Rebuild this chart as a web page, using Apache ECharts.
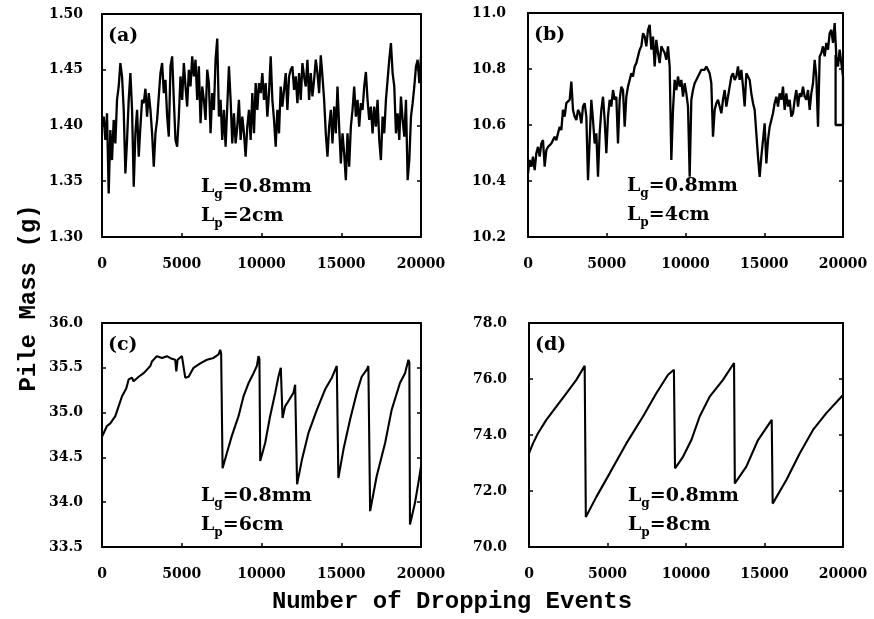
<!DOCTYPE html>
<html>
<head>
<meta charset="utf-8">
<title>Pile Mass vs Number of Dropping Events</title>
<script src="https://cdn.jsdelivr.net/npm/echarts@6/dist/echarts.min.js"></script>
<style>
  html, body { margin: 0; padding: 0; background: #fff; }
  #chart { width: 874px; height: 619px; }
</style>
</head>
<body>
<div id="chart"></div>
<script>
// ---- data ----
const EVENT_SPAN = 20000;

// (a) L_p = 2cm, sampled evenly over 0..20000 events
const massA = [
  1.399,1.408,1.387,1.411,1.339,1.396,1.369,1.405,1.384,1.423,
  1.435,1.456,1.444,1.414,1.357,1.387,1.423,1.447,1.414,1.345,
  1.393,1.414,1.372,1.399,1.423,1.420,1.433,1.408,1.429,1.414,
  1.393,1.363,1.393,1.405,1.426,1.447,1.456,1.429,1.441,1.408,
  1.390,1.453,1.462,1.423,1.387,1.381,1.408,1.444,1.423,1.456,
  1.435,1.417,1.450,1.435,1.462,1.444,1.459,1.423,1.453,1.402,
  1.435,1.423,1.405,1.450,1.438,1.393,1.429,1.414,1.459,1.478,
  1.408,1.423,1.387,1.414,1.381,1.417,1.453,1.423,1.384,1.411,
  1.384,1.399,1.423,1.387,1.408,1.393,1.372,1.399,1.414,1.387,
  1.429,1.393,1.438,1.414,1.438,1.429,1.447,1.423,1.438,1.408,
  1.429,1.462,1.423,1.405,1.381,1.414,1.393,1.435,1.417,1.432,
  1.447,1.414,1.444,1.450,1.453,1.432,1.444,1.420,1.447,1.423,
  1.456,1.444,1.435,1.459,1.423,1.447,1.426,1.441,1.459,1.447,
  1.429,1.463,1.444,1.423,1.393,1.372,1.399,1.414,1.384,1.417,
  1.393,1.435,1.399,1.366,1.393,1.375,1.351,1.393,1.363,1.399,
  1.414,1.435,1.408,1.423,1.399,1.420,1.414,1.435,1.448,1.423,
  1.405,1.417,1.393,1.417,1.399,1.423,1.387,1.369,1.408,1.393,
  1.423,1.441,1.459,1.474,1.447,1.435,1.393,1.411,1.387,1.426,
  1.405,1.390,1.423,1.351,1.369,1.408,1.420,1.435,1.453,1.459,
  1.438,1.462
];

// (b) L_p = 4cm, sampled evenly over 0..20000 events
const massB = [
  10.427,10.475,10.451,10.487,10.439,10.499,10.522,10.487,10.534,10.546,
  10.451,10.510,10.522,10.522,10.534,10.546,10.558,10.546,10.570,10.594,
  10.582,10.654,10.630,10.678,10.678,10.690,10.755,10.654,10.630,10.618,
  10.654,10.642,10.606,10.666,10.678,10.630,10.403,10.546,10.690,10.618,
  10.534,10.570,10.415,10.570,10.654,10.701,10.618,10.499,10.630,10.690,
  10.666,10.725,10.690,10.701,10.534,10.690,10.737,10.725,10.594,10.701,
  10.737,10.761,10.785,10.773,10.809,10.821,10.845,10.869,10.881,10.928,
  10.916,10.881,10.940,10.958,10.869,10.916,10.809,10.904,10.857,10.821,
  10.881,10.869,10.857,10.833,10.881,10.809,10.475,10.654,10.761,10.725,
  10.773,10.737,10.761,10.701,10.749,10.713,10.666,10.415,10.690,10.725,
  10.749,10.761,10.773,10.785,10.797,10.803,10.797,10.809,10.803,10.785,
  10.749,10.558,10.654,10.678,10.690,10.666,10.642,10.690,10.725,10.666,
  10.701,10.737,10.773,10.785,10.761,10.773,10.809,10.761,10.797,10.737,
  10.666,10.785,10.773,10.761,10.713,10.678,10.654,10.570,10.487,10.415,
  10.487,10.546,10.606,10.463,10.546,10.594,10.618,10.642,10.678,10.701,
  10.666,10.713,10.690,10.737,10.654,10.713,10.666,10.690,10.630,10.642,
  10.690,10.725,10.666,10.713,10.701,10.737,10.701,10.690,10.725,10.654,
  10.713,10.749,10.833,10.773,10.594,10.845,10.857,10.881,10.845,10.893,
  10.869,10.928,10.940,10.893,10.964,10.845,10.809,10.869,10.821,10.773
];
// the short flat step drawn at the right end of (b)
const eventsBTail = [20000, 19530, 19530];
const massBTail = [10.60, 10.60, 10.85];

// (c) L_p = 6cm
const eventsC = [
  0, 310, 520, 835, 1040, 1250, 1520, 1670, 1880, 1980, 2300, 2610, 2820, 3030,
  3130, 3440, 3760, 4070, 4380, 4590, 4660, 4740, 5010, 5220, 5430, 5740, 6160,
  6580, 6990, 7310, 7410, 7470, 7560, 7830, 8140, 8560, 8870, 9190, 9500, 9710,
  9810, 9870, 9920, 10230, 10540, 10860, 11060, 11210, 11270, 11320, 11480,
  11730, 12000, 12110, 12150, 12230, 12530, 12940, 13470, 13990, 14410, 14720,
  14760, 14820, 15140, 15550, 15970, 16280, 16600, 16700, 16740, 16810, 17220,
  17750, 18160, 18680, 19000, 19210, 19270, 19310, 19620, 19830, 20000
];
const massC = [
  34.73, 34.85, 34.88, 34.96, 35.07, 35.18, 35.27, 35.37, 35.39, 35.35, 35.40,
  35.44, 35.48, 35.52, 35.57, 35.63, 35.61, 35.63, 35.60, 35.59, 35.46, 35.59,
  35.63, 35.39, 35.40, 35.50, 35.55, 35.59, 35.61, 35.65, 35.70, 35.66, 34.38,
  34.55, 34.74, 34.96, 35.18, 35.33, 35.44, 35.52, 35.63, 35.60, 34.46, 34.66,
  34.96, 35.22, 35.40, 35.50, 35.48, 34.94, 35.07, 35.14, 35.22, 35.31, 35.29,
  34.20, 34.47, 34.77, 35.03, 35.26, 35.39, 35.52, 35.50, 34.27, 34.59, 34.92,
  35.22, 35.40, 35.48, 35.52, 35.50, 33.90, 34.29, 34.66, 35.03, 35.33, 35.44,
  35.59, 35.56, 33.75, 33.99, 34.21, 34.40
];

// (d) L_p = 8cm
const eventsD = [
  0, 255, 573, 1104, 1740, 2378, 3015, 3546, 3620, 4290, 5138, 6200, 7261, 8110,
  8854, 9230, 9300, 9809, 10340, 10870, 11507, 12357, 13060, 13110, 13843, 14586,
  15460, 15520, 16391, 17240, 18089, 18938, 20000
];
const massD = [
  73.34, 73.70, 74.06, 74.54, 75.01, 75.49, 75.97, 76.47, 71.07, 71.79, 72.63,
  73.70, 74.66, 75.49, 76.15, 76.33, 72.81, 73.22, 73.82, 74.66, 75.37, 75.97,
  76.57, 72.27, 72.87, 73.82, 74.54, 71.55, 72.39, 73.34, 74.18, 74.78, 75.43
];

// axis ranges and labels per panel
const panelTags = ['(a)', '(b)', '(c)', '(d)'];
const pileLengths = ['2cm', '4cm', '6cm', '8cm'];
const grainSize = '0.8mm';
const yMins = [1.30, 10.2, 33.5, 70.0];
const yMaxs = [1.50, 11.0, 36.0, 78.0];
const yIntervals = [0.05, 0.2, 0.5, 2.0];
const yDecimals = [2, 1, 1, 1];
const xInterval = 5000;
const xTitle = 'Number of Dropping Events';
const yTitle = 'Pile Mass (g)';

(function() {
  document.addEventListener('DOMContentLoaded', function() {
    initChart();
  });

  const SERIF = '"DejaVu Serif", "Liberation Serif", serif';
  const MONO = '"Liberation Mono", "DejaVu Sans Mono", monospace';

  // plot boxes in pixels
  const grids = [
    { left: 102, top: 14, width: 319, height: 223 },
    { left: 528, top: 13, width: 315, height: 224 },
    { left: 102, top: 323, width: 319, height: 224 },
    { left: 529, top: 323, width: 314, height: 224 }
  ];

  function spreadEvenly(mass) {
    const step = EVENT_SPAN / (mass.length - 1);
    return mass.map(function(m, i) { return [Math.round(i * step), m]; });
  }

  function pairUp(events, mass) {
    return events.map(function(e, i) { return [e, mass[i]]; });
  }

  function frameLine() {
    return { show: true, onZero: false, lineStyle: { color: '#000', width: 2 } };
  }

  function buildAxes(i) {
    const labelFont = { color: '#000', fontFamily: SERIF, fontWeight: 'bold', fontSize: 14 };
    const xBottom = {
      gridIndex: i, type: 'value', position: 'bottom',
      min: 0, max: EVENT_SPAN, interval: xInterval,
      axisLine: frameLine(),
      axisTick: { inside: true, length: 4, lineStyle: { color: '#000', width: 1.5 } },
      axisLabel: Object.assign({ margin: 20, formatter: function(v) { return String(v); } }, labelFont),
      splitLine: { show: false }
    };
    const xTop = {
      gridIndex: i, type: 'value', position: 'top',
      min: 0, max: EVENT_SPAN, interval: xInterval,
      axisLine: frameLine(), axisTick: { show: false },
      axisLabel: { show: false }, splitLine: { show: false }
    };
    const yLeft = {
      gridIndex: i, type: 'value', position: 'left',
      min: yMins[i], max: yMaxs[i], interval: yIntervals[i],
      axisLine: frameLine(),
      axisTick: { inside: true, length: 4, lineStyle: { color: '#000', width: 1.5 } },
      axisLabel: Object.assign({
        margin: i % 2 === 0 ? 19 : 22,
        formatter: function(v) { return v.toFixed(yDecimals[i]); }
      }, labelFont),
      splitLine: { show: false }
    };
    const yRight = {
      gridIndex: i, type: 'value', position: 'right',
      min: yMins[i], max: yMaxs[i], interval: yIntervals[i],
      axisLine: frameLine(),
      axisTick: { inside: true, length: 4, lineStyle: { color: '#000', width: 1.5 } },
      axisLabel: { show: false }, splitLine: { show: false }
    };
    return { x: [xBottom, xTop], y: [yLeft, yRight] };
  }

  function buildAnnotations(i) {
    const g = grids[i];
    const tag = {
      type: 'text', left: g.left + 6, top: g.top + 13,
      style: { text: panelTags[i], fill: '#000', font: 'bold 19px ' + SERIF }
    };
    const params = {
      type: 'text', left: g.left + 99, top: g.top + 164,
      style: {
        text: '{b|L}{s|g}{b|=' + grainSize + '}\n{b|L}{s|p}{b|=' + pileLengths[i] + '}',
        fill: '#000',
        rich: {
          b: { fontFamily: SERIF, fontWeight: 'bold', fontSize: 19, lineHeight: 29, fill: '#000' },
          s: { fontFamily: SERIF, fontWeight: 'bold', fontSize: 12, padding: [14, 0, 0, 0], fill: '#000' }
        }
      }
    };
    return [tag, params];
  }

  function initChart() {
    const chart = echarts.init(document.getElementById('chart'), null, { renderer: 'canvas' });

    const runs = [
      spreadEvenly(massA),
      spreadEvenly(massB).concat(pairUp(eventsBTail, massBTail)),
      pairUp(eventsC, massC),
      pairUp(eventsD, massD)
    ];

    const xAxes = [];
    const yAxes = [];
    const series = [];
    let graphics = [];

    runs.forEach(function(data, i) {
      const axes = buildAxes(i);
      xAxes.push(axes.x[0], axes.x[1]);
      yAxes.push(axes.y[0], axes.y[1]);
      series.push({
        type: 'line',
        xAxisIndex: 2 * i,
        yAxisIndex: 2 * i,
        data: data,
        symbol: 'none',
        clip: true,
        lineStyle: { color: '#000', width: i < 2 ? 2.3 : 2.1 }
      });
      graphics = graphics.concat(buildAnnotations(i));
    });

    // shared axis titles
    graphics.push({
      type: 'text', x: 29, y: 298, rotation: Math.PI / 2,
      style: { text: yTitle, fill: '#000', font: 'bold 24px ' + MONO, align: 'center', verticalAlign: 'middle' }
    });
    graphics.push({
      type: 'text', x: 452, y: 602,
      style: { text: xTitle, fill: '#000', font: 'bold 24px ' + MONO, align: 'center', verticalAlign: 'middle' }
    });

    chart.setOption({
      animation: false,
      backgroundColor: '#fff',
      grid: grids,
      xAxis: xAxes,
      yAxis: yAxes,
      series: series,
      graphic: graphics
    });
  }
})();
</script>
</body>
</html>
